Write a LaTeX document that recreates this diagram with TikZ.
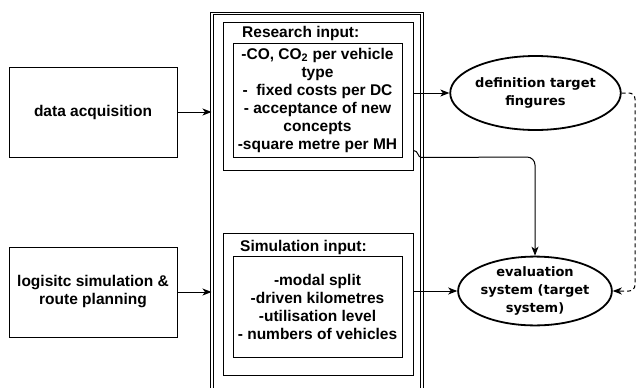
\documentclass[tikz,border=0pt]{standalone}
\usepackage{fontspec}
\setmainfont{Liberation Sans}
\newfontfamily\ellfont{DejaVu Sans}
\usetikzlibrary{shapes.geometric,arrows.meta}
\begin{document}
\begin{tikzpicture}[x=1pt,y=-1pt,
  box/.style={draw, line width=1pt, rectangle, inner sep=0pt, align=center,
    font=\fontsize{15.5}{18}\selectfont\bfseries},
  title/.style={inner sep=0pt, anchor=west, font=\fontsize{15.5}{18}\selectfont\bfseries},
  ell/.style={draw, line width=1.8pt, ellipse, inner sep=0pt, align=center,
    font=\ellfont\fontsize{13}{18}\selectfont\bfseries},
  conn/.style={line width=1pt, -{Stealth[length=9pt,width=7pt,inset=2.5pt]}},
  dashconn/.style={conn, dash pattern=on 4pt off 3pt},
 ]
\useasboundingbox (0,0) rectangle (637,388);
\clip (0,0) rectangle (637,388);
\fill[white] (0,0) rectangle (637,388);

% outer double frame
\node (outer) [draw, double, double distance=1.8pt, line width=0.8pt, inner sep=0pt,
  minimum width=210pt, minimum height=420pt, anchor=north west] at (211.5,13) {};

% left boxes
\node[box, minimum width=168pt, minimum height=90pt] (da) at (93,112) {data acquisition};
\node[box, minimum width=168pt, minimum height=90pt] (ls) at (93,292) {logisitc simulation \&\\route planning};

% research input
\node[box, minimum width=190pt, minimum height=148pt] (res) at (318,96) {};
\node[title] (restitle) at (242,33) {Research input:};
\node[box, minimum width=169pt, minimum height=114pt] (resin) at (317.5,100)
  {-CO, CO\textsubscript{2} per vehicle\\type\\-\ \ fixed costs per DC\\- acceptance of new\\concepts\\-square metre per MH};

% simulation input
\node[box, minimum width=190pt, minimum height=142pt] (sim) at (318,304) {};
\node[title] (simtitle) at (240,247) {Simulation input:};
\node[box, minimum width=169pt, minimum height=101pt] (simin) at (317.5,306.5)
  {-modal split\\-driven kilometres\\-utilisation level\\- numbers of vehicles};

% ellipses
\node[ell, minimum width=135pt, minimum height=74pt] (def) at (535.5,93) {definition target\\fingures};
\node[ell, minimum width=136pt, minimum height=66pt] (eval) at (535,291) {evaluation\\system (target\\system)};

\coordinate (dc) at (635,0);

% connectors
\draw[conn] (da.east) -- (outer.west |- da.east);
\draw[conn] (ls.east) -- (outer.west |- ls.east);
\draw[conn] (res.east |- def.west) -- (def.west);
\draw[conn] ([yshift=20pt]res.south east) .. controls +(5,0) and +(-4,0) .. ++(8,7)
  [rounded corners=8pt] -- (eval.north |- 0,157) -- (eval.north);
\draw[conn] (sim.east |- eval.west) -- (eval.west);
\draw[dashconn, rounded corners=6pt] (def.east) -- (def.east -| dc) -- (eval.east -| dc) -- (eval.east);
\end{tikzpicture}
\end{document}
